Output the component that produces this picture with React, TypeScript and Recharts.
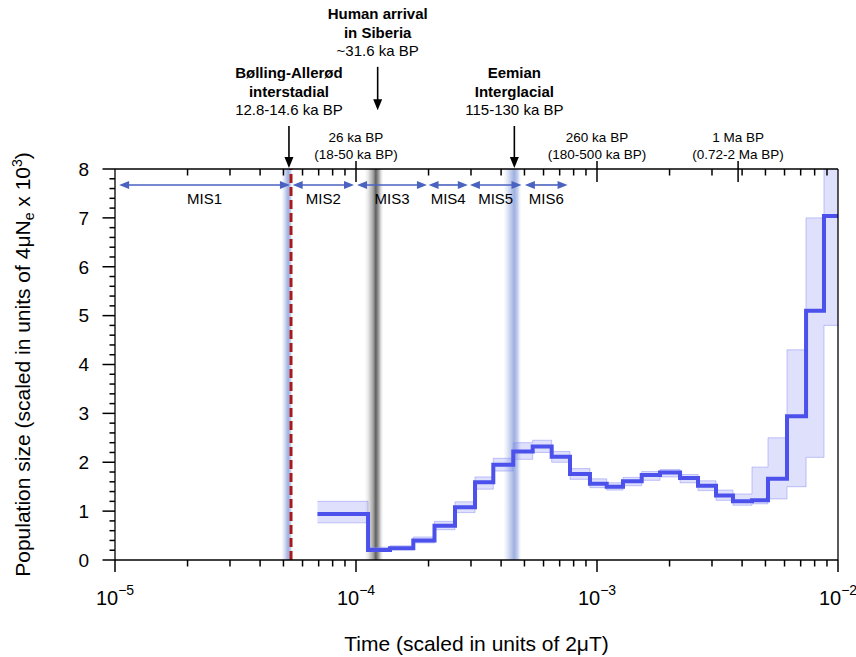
import React from "react";
import {
  Area,
  ComposedChart,
  Line,
  ReferenceArea,
  ReferenceLine,
  Scatter,
  XAxis,
  YAxis,
} from "recharts";

const FONT = '"Liberation Sans", Arial, Helvetica, sans-serif';

// PSMC curve: start time of every step (last entry closes the final step)
const stepTimes = [
  6.92e-5, 1.122e-4, 1.384e-4, 1.729e-4, 2.117e-4, 2.575e-4, 3.118e-4,
  3.713e-4, 4.494e-4, 5.41e-4, 6.486e-4, 7.727e-4, 9.35e-4, 1.097e-3,
  1.282e-3, 1.533e-3, 1.826e-3, 2.211e-3, 2.625e-3, 3.118e-3, 3.666e-3,
  4.397e-3, 5.123e-3, 6.143e-3, 7.37e-3, 8.747e-3, 1e-2,
];
const popSize = [
  0.94, 0.205, 0.24, 0.4, 0.7, 1.08, 1.59, 1.95, 2.22, 2.32, 2.11, 1.76, 1.56,
  1.5, 1.61, 1.74, 1.79, 1.68, 1.52, 1.32, 1.2, 1.22, 1.66, 2.94, 5.1, 7.04,
  7.04,
];
// spread of the bootstrap replicates
const bootLow = [
  0.76, 0.19, 0.21, 0.35, 0.62, 0.97, 1.45, 1.82, 2.06, 2.2, 2.0, 1.65, 1.48,
  1.43, 1.52, 1.63, 1.7, 1.58, 1.42, 1.22, 1.12, 1.15, 1.25, 1.5, 2.1, 4.8,
  4.8,
];
const bootHigh = [
  1.2, 0.26, 0.29, 0.47, 0.79, 1.19, 1.7, 2.08, 2.4, 2.45, 2.22, 1.87, 1.66,
  1.58, 1.69, 1.81, 1.85, 1.75, 1.62, 1.43, 1.35, 1.9, 2.5, 4.3, 7.0, 8.6,
  8.6,
];

const xMajorTicks = [1e-5, 1e-4, 1e-3, 1e-2];
const xMajorExponents = ["\u22125", "\u22124", "\u22123", "\u22122"];
const xMinorFactors = [2, 3, 4, 5, 6, 7, 8, 9];
const yMajorTicks = [0, 1, 2, 3, 4, 5, 6, 7, 8];
const yMinorSteps = [0.2, 0.4, 0.6, 0.8];

const xMinorTicks = xMajorTicks
  .slice(0, 3)
  .flatMap((d) => xMinorFactors.map((m) => m * d));
const yMinorTicks = yMajorTicks
  .slice(0, 8)
  .flatMap((d) => yMinorSteps.map((s) => d + s));

// marine isotope stages
const misNames = ["MIS1", "MIS2", "MIS3", "MIS4", "MIS5", "MIS6"];
const misStart = [1.04e-5, 5.46e-5, 1.01e-4, 2.0e-4, 2.97e-4, 5.02e-4];
const misEnd = [5.32e-5, 9.81e-5, 1.97e-4, 2.91e-4, 4.86e-4, 7.55e-4];
const misLevel = 7.673;

// labelled ticks on top axis
const topTickTimes = [1e-4, 1e-3, 3.85e-3];
const topTickLabels = ["26 ka BP", "260 ka BP", "1 Ma BP"];
const topTickRanges = ["(18-50 ka BP)", "(180-500 ka BP)", "(0.72-2 Ma BP)"];

// events with arrows
const eventTimes = [5.27e-5, 1.23e-4, 4.54e-4];
const eventTitles = [
  ["Bølling-Allerød", "interstadial"],
  ["Human arrival", "in Siberia"],
  ["Eemian", "Interglacial"],
];
const eventDates = ["12.8-14.6 ka BP", "~31.6 ka BP", "115-130 ka BP"];
const eventArrowTop = [8.88, 10.09, 8.88];
const eventArrowTip = [8.02, 9.2, 8.02];

// shaded periods
const bandStart = [4.92e-5, 1.09e-4, 4.11e-4];
const bandEnd = [5.46e-5, 1.294e-4, 4.84e-4];
const bandFill = ["url(#blueBand)", "url(#greyBand)", "url(#blueBand)"];
const redLineTime = 5.374e-5;

const rows = stepTimes.map((t, i) => ({
  t,
  n: popSize[i],
  band: [bootLow[i], bootHigh[i]],
}));

// anchor points for the frame's tick marks
const bottomTickPts = [...xMajorTicks, ...xMinorTicks].map((v) => ({ x: v, y: 0 }));
const topTickPts = xMinorTicks.map((v) => ({ x: v, y: 8 }));
const topEventPts = topTickTimes.map((v) => ({ x: v, y: 8 }));
const leftTickPts = [...yMajorTicks, ...yMinorTicks].map((v) => ({ x: 1e-5, y: v }));

const TICK = { stroke: "#000", strokeWidth: 1.5 };

function BottomLabel({ x, y, payload }: any) {
  const i = xMajorTicks.indexOf(payload.value);
  if (i < 0) return null;
  return (
    <text x={x} y={y + 45} textAnchor="middle" fontFamily={FONT} fontSize={20} fill="#000">
      10
      <tspan dy={-10} fontSize={14}>
        {xMajorExponents[i]}
      </tspan>
    </text>
  );
}

function LeftLabel({ x, y, payload }: any) {
  return (
    <text x={x - 26} y={y} dy="0.36em" textAnchor="end" fontFamily={FONT} fontSize={19} fill="#000">
      {payload.value}
    </text>
  );
}

function BottomTickShape({ cx, cy, payload }: any) {
  const len = xMajorTicks.includes(payload.x) ? 12 : 6.5;
  return (
    <g>
      <line x1={cx} x2={cx} y1={cy} y2={cy + len} {...TICK} />
    </g>
  );
}

function TopTickShape({ cx, cy }: any) {
  return (
    <g>
      <line x1={cx} x2={cx} y1={cy} y2={cy + 6.5} {...TICK} />
    </g>
  );
}

function LeftTickShape({ cx, cy, payload }: any) {
  const len = yMajorTicks.includes(payload.y) ? 12.5 : 5.5;
  return (
    <g>
      <line x1={cx - len} x2={cx} y1={cy} y2={cy} {...TICK} />
    </g>
  );
}

function TopEventShape({ cx, cy, payload }: any) {
  const i = topTickTimes.indexOf(payload.x);
  return (
    <g fontFamily={FONT} fontSize={13.5} fill="#000" textAnchor="middle">
      <line x1={cx} x2={cx} y1={cy - 8} y2={cy + 13} {...TICK} />
      <text x={cx} y={cy - 27.5}>{topTickLabels[i]}</text>
      <text x={cx} y={cy - 10}>{topTickRanges[i]}</text>
    </g>
  );
}

function MisArrow({ x1, x2, y1, name }: any) {
  const c = "#4a62c0";
  const h = 10;
  const w = 4;
  return (
    <g>
      <line x1={x1 + h - 1} x2={x2 - h + 1} y1={y1} y2={y1} stroke={c} strokeWidth={1.6} />
      <polygon points={`${x1},${y1} ${x1 + h},${y1 - w} ${x1 + h},${y1 + w}`} fill={c} />
      <polygon points={`${x2},${y1} ${x2 - h},${y1 - w} ${x2 - h},${y1 + w}`} fill={c} />
      <text x={(x1 + x2) / 2} y={y1 + 19} textAnchor="middle" fontFamily={FONT} fontSize={15} fill="#000">
        {name}
      </text>
    </g>
  );
}

function EventArrow({ x1, y1, y2, i }: any) {
  return (
    <g fontFamily={FONT} fontSize={15} fill="#000" textAnchor="middle">
      <line x1={x1} x2={x1} y1={y1} y2={y2 - 9} stroke="#000" strokeWidth={1.6} />
      <polygon points={`${x1},${y2} ${x1 - 4.5},${y2 - 11} ${x1 + 4.5},${y2 - 11}`} fill="#000" />
      <text x={x1} y={y1 - 47.5} fontWeight="bold">{eventTitles[i][0]}</text>
      <text x={x1} y={y1 - 29} fontWeight="bold">{eventTitles[i][1]}</text>
      <text x={x1} y={y1 - 10.5}>{eventDates[i]}</text>
    </g>
  );
}

export default function App() {
  return (
    <div style={{ position: "absolute", left: 0, top: 0, width: 856, height: 657, background: "#fff" }}>
      <ComposedChart
        width={856}
        height={657}
        data={rows}
        margin={{ top: 168, right: 17, bottom: 37, left: 55 }}
      >
        <defs>
          <linearGradient id="blueBand" x1="0" y1="0" x2="1" y2="0">
            <stop offset="0" stopColor="#e6ebf8" stopOpacity={0.2} />
            <stop offset="0.25" stopColor="#d8e0f4" />
            <stop offset="0.6" stopColor="#9fb0e0" />
            <stop offset="0.8" stopColor="#c4cfee" />
            <stop offset="1" stopColor="#eef1fa" stopOpacity={0.2} />
          </linearGradient>
          <linearGradient id="greyBand" x1="0" y1="0" x2="1" y2="0">
            <stop offset="0" stopColor="#f4f4f4" stopOpacity={0.3} />
            <stop offset="0.2" stopColor="#e2e2e2" />
            <stop offset="0.45" stopColor="#a5a5a5" />
            <stop offset="0.6" stopColor="#5e5e5e" />
            <stop offset="0.78" stopColor="#a8a8a8" />
            <stop offset="1" stopColor="#f2f2f2" stopOpacity={0.3} />
          </linearGradient>
        </defs>
        <XAxis
          dataKey="t"
          type="number"
          scale="log"
          domain={[1e-5, 1e-2]}
          allowDataOverflow
          ticks={xMajorTicks}
          interval={0}
          tickSize={0}
          tickMargin={0}
          tickLine={false}
          tick={<BottomLabel />}
          axisLine={{ stroke: "#000", strokeWidth: 1.3 }}
          height={60}
          label={{
            content: ({ viewBox }: any) => (
              <text
                x={viewBox.x + viewBox.width / 2}
                y={651}
                textAnchor="middle"
                fontFamily={FONT}
                fontSize={21}
                fill="#000"
              >
                Time (scaled in units of 2μT)
              </text>
            ),
          }}
        />
        <XAxis
          xAxisId="frame"
          orientation="top"
          dataKey="x"
          type="number"
          scale="log"
          domain={[1e-5, 1e-2]}
          tick={false}
          tickLine={false}
          axisLine={{ stroke: "#000", strokeWidth: 1.3 }}
          height={1}
        />
        <YAxis
          type="number"
          domain={[0, 8]}
          allowDataOverflow
          ticks={yMajorTicks}
          interval={0}
          tickSize={0}
          tickMargin={0}
          tickLine={false}
          tick={<LeftLabel />}
          axisLine={{ stroke: "#000", strokeWidth: 1.3 }}
          width={60}
          label={{
            content: ({ viewBox }: any) => {
              const cx = 22;
              const cy = viewBox.y + viewBox.height / 2;
              return (
                <text
                  x={cx}
                  y={cy}
                  dy="0.36em"
                  transform={`rotate(-90, ${cx}, ${cy})`}
                  textAnchor="middle"
                  fontFamily={FONT}
                  fontSize={21}
                  fill="#000"
                >
                  Population size (scaled in units of 4μN
                  <tspan dy={4} fontSize={14}>e</tspan>
                  <tspan dy={-4}> x 10</tspan>
                  <tspan dy={-8} fontSize={14}>3</tspan>
                  <tspan dy={8}>)</tspan>
                </text>
              );
            },
          }}
        />
        <YAxis
          yAxisId="frame"
          orientation="right"
          dataKey="y"
          type="number"
          domain={[0, 8]}
          width={1}
          tick={false}
          tickLine={false}
          axisLine={{ stroke: "#000", strokeWidth: 1.3 }}
        />

        {bandStart.map((s, i) => (
          <ReferenceArea
            key={`band${i}`}
            x1={s}
            x2={bandEnd[i]}
            y1={0}
            y2={8}
            fill={bandFill[i]}
            fillOpacity={1}
            stroke="none"
          />
        ))}
        <ReferenceLine
          x={redLineTime}
          stroke="#a8191c"
          strokeWidth={3}
          strokeDasharray="9 4"
        />

        <Area
          dataKey="band"
          type="stepAfter"
          fill="#6e73f0"
          fillOpacity={0.22}
          stroke="#8c90f5"
          strokeOpacity={0.5}
          strokeWidth={1}
          isAnimationActive={false}
        />
        <Line
          dataKey="n"
          type="stepAfter"
          stroke="#4b51ea"
          strokeWidth={4}
          dot={false}
          activeDot={false}
          isAnimationActive={false}
        />

        <Scatter
          data={bottomTickPts}
          xAxisId="frame"
          yAxisId="frame"
          shape={(p: any) => <BottomTickShape {...p} />}
          isAnimationActive={false}
        />
        <Scatter
          data={topTickPts}
          xAxisId="frame"
          yAxisId="frame"
          shape={(p: any) => <TopTickShape {...p} />}
          isAnimationActive={false}
        />
        <Scatter
          data={topEventPts}
          xAxisId="frame"
          yAxisId="frame"
          shape={(p: any) => <TopEventShape {...p} />}
          isAnimationActive={false}
        />
        <Scatter
          data={leftTickPts}
          xAxisId="frame"
          yAxisId="frame"
          shape={(p: any) => <LeftTickShape {...p} />}
          isAnimationActive={false}
        />

        {misNames.map((name, i) => (
          <ReferenceLine
            key={name}
            segment={[
              { x: misStart[i], y: misLevel },
              { x: misEnd[i], y: misLevel },
            ]}
            ifOverflow="visible"
            shape={(p: any) => <MisArrow {...p} name={name} />}
          />
        ))}
        {eventTimes.map((t, i) => (
          <ReferenceLine
            key={`ev${i}`}
            segment={[
              { x: t, y: eventArrowTop[i] },
              { x: t, y: eventArrowTip[i] },
            ]}
            ifOverflow="visible"
            shape={(p: any) => <EventArrow {...p} i={i} />}
          />
        ))}
      </ComposedChart>
    </div>
  );
}
